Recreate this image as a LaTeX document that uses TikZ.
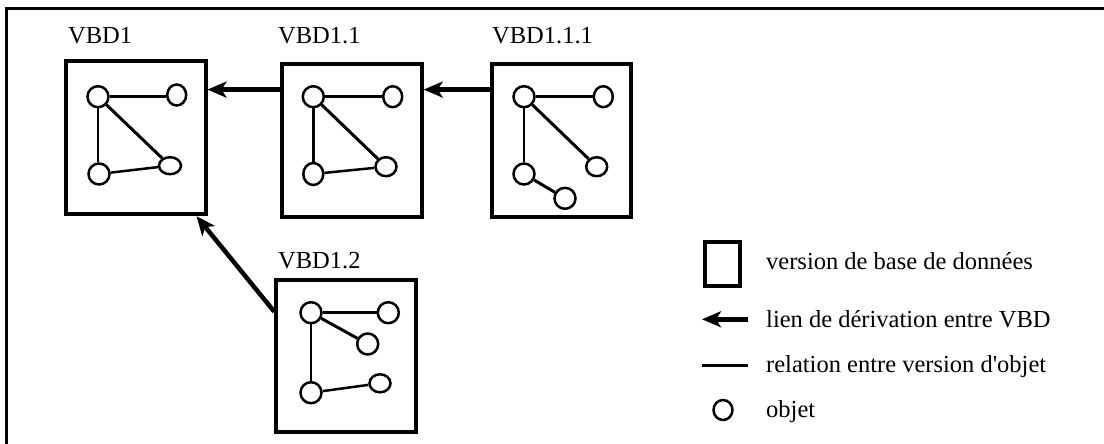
\documentclass[tikz,border=0pt]{standalone}
\usepackage{fontspec}
\newfontfamily\libserif{Liberation Serif}
\usetikzlibrary{arrows.meta,shapes.geometric}
\begin{document}
\begin{tikzpicture}[x=1pt,y=-1pt,
  vbd/.style={draw, line width=4pt, rectangle, inner sep=0pt, minimum width=140pt, minimum height=153pt},
  obj/.style={draw, ellipse, line width=2.5pt, inner sep=0pt, minimum width=21pt, minimum height=21pt},
  rel/.style={line width=2.5pt},
  relthick/.style={line width=3pt},
  deriv/.style={line width=4.5pt, -{Stealth[length=19pt,width=16pt,inset=5pt]}},
  lbl/.style={anchor=base west, inner sep=0pt, font=\libserif\fontsize{24.5}{28}\selectfont}
]
\useasboundingbox (0,0) rectangle (1104,444);
% frame
\draw[line width=3.4pt] (6.7,446) -- (6.7,8.7) -- (1106,8.7);

% boxes
\node[vbd] (b1) at (135.5,137.7) {};
\node[vbd] (b11) at (351.7,140.5) {};
\node[vbd, minimum width=139pt] (b111) at (561.7,140.5) {};
\node[vbd, minimum height=152pt] (b12) at (346.3,356.3) {};

% labels
\node[lbl] (l1) at (68,44) {VBD1};
\node[lbl] (l11) at (278,44) {VBD1.1};
\node[lbl] (l111) at (492,44) {VBD1.1.1};
\node[lbl] (l12) at (278,268) {VBD1.2};

% VBD1 objects
\node[obj] (a1) at (98,96.7) {};
\node[obj, minimum width=19pt] (o1b) at (176.7,95) {};
\node[obj] (c1) at (99,174) {};
\node[obj, minimum width=22pt, minimum height=17pt] (d1) at (170,165.7) {};
\draw[rel] (a1.east) -- (a1.east -| o1b.west);
\draw[rel] (a1.south) -- (a1.south |- c1.north);
\draw[relthick] (a1) -- (d1);
\draw[rel] (c1) -- (d1);

% VBD1.1 objects
\node[obj] (a2) at (313.3,96.7) {};
\node[obj, minimum width=19pt] (o2b) at (392.7,96.7) {};
\node[obj, minimum width=20pt, minimum height=22pt] (c2) at (313.3,174) {};
\node[obj, minimum width=21pt, minimum height=19pt] (d2) at (386,166.7) {};
\draw[rel] (a2) -- (o2b);
\draw[rel] (a2) -- (c2);
\draw[relthick] (a2) -- (d2);
\draw[rel] (c2) -- (d2);

% VBD1.1.1 objects
\node[obj] (a3) at (524,96.7) {};
\node[obj, minimum width=19pt] (o3b) at (603.3,96.7) {};
\node[obj] (c3) at (524,174) {};
\node[obj, minimum width=21pt, minimum height=19pt] (d3) at (596.7,166.7) {};
\node[obj] (e3) at (565,198.3) {};
\draw[rel] (a3) -- (o3b);
\draw[rel] (a3) -- (c3);
\draw[relthick] (a3) -- (d3);
\draw[relthick] (c3) -- (e3);

% VBD1.2 objects
\node[obj] (a4) at (311,312.7) {};
\node[obj] (o4b) at (388.3,312.7) {};
\node[obj] (d4) at (367.7,344) {};
\node[obj] (c4) at (311,392.7) {};
\node[obj, minimum width=21pt, minimum height=18pt] (e4) at (380,383.3) {};
\draw[rel] (a4) -- (o4b);
\draw[relthick] (a4) -- (d4);
\draw[rel] (a4) -- (c4);
\draw[rel] (c4) -- (e4);

% derivation links
\path ([yshift=-27.6pt]b11.north west) coordinate (s1);
\draw[deriv] (s1) -- (s1 -| b1.east);
\path ([yshift=-27.6pt]b111.north west) coordinate (s2);
\draw[deriv] (s2) -- (s2 -| b11.east);
\path ([yshift=-33.4pt]b12.north west) coordinate (s3);
\path ([xshift=-11pt]b1.south east) coordinate (e3t);
\draw[deriv] (s3) -- (e3t);

% legend
\node[draw, line width=4pt, inner sep=0pt, minimum width=34.7pt, minimum height=44.3pt] (lgbox) at (722.3,264.2) {};
\coordinate (lga1) at (748.3,319.3);
\coordinate (lga2) at (702,319.3);
\draw[deriv] (lga1) -- (lga2);
\coordinate (lgl1) at (702,365);
\coordinate (lgl2) at (748,365);
\draw[line width=3pt] (lgl1) -- (lgl2);
\node[obj, minimum width=19pt, minimum height=20pt] (lgo) at (723,410) {};

\node[lbl] (tx1) at (766,269.3) {version de base de données};
\node[lbl] (tx2) at (766,327.3) {lien de dérivation entre VBD};
\node[lbl] (tx3) at (766,372.7) {relation entre version d'objet};
\node[lbl] (tx4) at (766,417) {objet};
\end{tikzpicture}
\end{document}
